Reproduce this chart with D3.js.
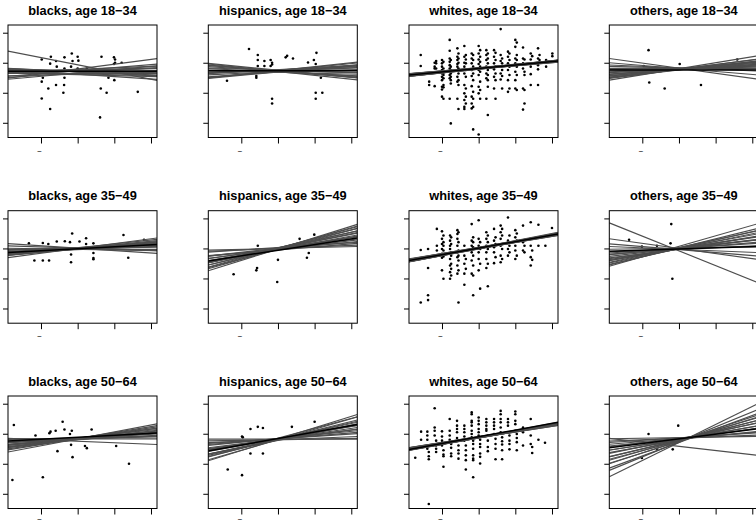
<!DOCTYPE html>
<html><head><meta charset="utf-8">
<script src="https://cdn.jsdelivr.net/npm/d3@7"></script>
<style>body{margin:0;background:#fff}svg{display:block}</style></head>
<body>
<script>
// ---------------- DATA ----------------
const titles = ["blacks, age 18\u221234","hispanics, age 18\u221234","whites, age 18\u221234","others, age 18\u221234",
"blacks, age 35\u221249","hispanics, age 35\u221249","whites, age 35\u221249","others, age 35\u221249",
"blacks, age 50\u221264","hispanics, age 50\u221264","whites, age 50\u221264","others, age 50\u221264"];
const xTicks = [-1,0,1,2];
const xTickLabels = ["\u2212","","",""];
const yTicks = [0,1,2,3];

// points [x,y]
const blacks18 = [[-0.98,2.11],[-0.73,2.2],[-0.75,1.97],[-0.59,2.06],[-0.57,1.87],[-0.36,2.18],[-0.36,1.81],[-0.16,2.31],[-0.14,2.06],[-0.18,1.87],[0,2.2],[0.02,2.07],[0,1.81],[0.25,1.81],[0.65,2.2],[0.99,2.18],[1.02,2.11],[1.02,2.0],[0.99,1.96],[1.2,2.0],[-0.95,1.5],[-0.98,1.37],[-0.8,1.14],[-0.59,1.26],[-0.36,1.5],[-0.37,1.26],[-0.39,1.0],[-0.98,0.81],[-0.75,0.46],[0.63,1.14],[0.79,1.0],[0.84,1.5],[1.0,1.42],[1.64,1.03],[0.61,0.18]];
const hisp18 = [[-0.79,2.46],[-1.39,1.4],[-0.55,2.26],[-0.55,2.09],[-0.55,1.89],[-0.59,1.56],[-0.59,1.5],[-0.37,2.06],[-0.37,1.89],[-0.2,2.09],[-0.16,2.0],[-0.16,1.94],[-0.2,1.89],[-0.16,0.8],[-0.16,0.64],[0.21,2.18],[0.25,2.23],[0.41,2.14],[0.82,2.01],[0.98,2.09],[1.05,2.33],[1.03,1.96],[1.03,1.61],[1.17,1.5],[1.03,1.0],[1.03,0.8],[1.21,1.0]];
const whites18Cols = [[-1.58,[2.26,1.89]],[-1.35,[1.37,1.26]],[-1.2,[1.22,1.81,1.87,2.0]],[-1.16,[2.06,1.98,1.81]],
[-1.0,[2.09,1.98,1.87,1.76,1.64,1.53,1.42,1.2,1.11,0.87]],[-0.96,[2.03,1.81,1.67,1.59,1.48,1.26,1.18,0.8]],
[-0.79,[2.76,2.4,2.14,2.03,1.92,1.81,1.7,1.59,1.48,0.8]],[-0.76,[2.09,1.87,1.76,1.64,1.53,1.42,1.31,-0.02]],
[-0.58,[2.48,2.2,2.09,1.96,1.87,1.76,1.53,1.37,0.8]],[-0.55,[2.31,2.14,2.0,1.81,1.64,1.42,1.26,0.46]],
[-0.39,[2.56,2.2,2.0,1.87,1.64,1.26,0.98,0.76,0.53,0.46]],[-0.35,[2.26,2.11,1.98,1.76,1.53,1.14,0.87,0.64]],
[-0.19,[2.31,2.14,1.98,1.76,1.56,1.22,0.87,0.64,0.48]],[-0.15,[2.26,2.09,1.87,1.64,1.42,1.03,0.8,0.53,-0.22]],
[0.0,[2.56,2.31,2.11,1.96,1.76,1.59,1.2,0.98,-0.39]],[0.04,[2.42,2.2,2.03,1.87,1.7,1.37,1.09,0.8]],
[0.21,[2.42,2.26,2.09,1.87,1.64,1.48,0.8]],[0.25,[2.31,2.14,1.98,1.76,1.59,1.42,1.2,0.26]],
[0.42,[2.42,2.2,1.98,1.78,1.53,1.14]],[0.46,[2.33,2.09,1.87,1.64,1.42,0.8]],
[0.6,[3.12,2.26,2.06,1.87,1.64,1.44]],[0.64,[2.14,1.98,1.76,1.56,1.14]],
[0.8,[2.37,2.2,1.98,1.76,1.42,1.03]],[0.84,[2.31,2.09,1.87,1.59,1.14]],
[1.0,[2.76,2.53,2.14,1.98,1.7,1.42,1.14]],[1.04,[2.67,2.26,2.09,1.87,1.59,1.09]],
[1.21,[2.51,2.14,1.98,1.81,1.14,0.44]],[1.25,[2.11,1.7,1.59,1.09,0.64]],
[1.42,[2.31,2.11,1.87,1.62,1.26]],[1.46,[2.22,1.98]],[1.62,[2.48,2.14,1.92,1.78,1.26]],[1.66,[2.26,2.09]],
[1.84,[2.09,1.87]],[2.01,[2.31,2.22]]];
const others18 = [[-0.83,2.42],[-0.96,1.89],[-0.81,1.34],[-0.6,1.81],[-0.39,1.14],[0.02,1.96],[0.6,1.26],[1.59,2.11]];

const blacks35 = [[-1.33,2.17],[-1.18,1.6],[-0.95,2.18],[-0.95,1.6],[-0.8,2.15],[-0.78,1.6],[-0.57,2.23],[-0.35,2.24],[-0.21,2.21],[-0.15,2.5],[-0.18,1.8],[-0.18,1.54],[0.05,2.23],[0.23,2.34],[0.23,2.15],[0.43,2.17],[0.43,1.85],[0.43,1.68],[0.43,1.64],[1.25,2.45],[1.38,1.69],[1.81,2.29]];
const hisp35 = [[-1.21,1.14],[-0.59,1.27],[-0.57,1.35],[-0.55,2.09],[0,1.62],[-0.02,0.88],[0.59,2.32],[0.79,1.69],[0.84,1.85],[0.99,2.46]];
const whites35Cols = [[-1.58,[1.95,0.2]],[-1.38,[1.98,1.35,0.44,0.28]],[-1.14,[2.65,2.09,1.93]],
[-1.0,[2.57,2.32,2.15,1.98,1.82,1.69,1.27]],[-0.96,[2.43,2.21,2.09,1.93,1.73,0.99]],
[-0.78,[2.43,2.26,2.09,1.98,1.82,1.65,1.43,1.21,0.99]],[-0.75,[2.37,2.15,1.87,1.76,1.49,1.32,1.1]],
[-0.58,[2.61,2.48,2.32,2.09,1.87,1.71,1.43,1.16]],[-0.55,[2.54,2.21,1.93,1.76,1.6,1.27,0.2]],
[-0.39,[2.09,1.76,1.49,1.16,0.79]],[-0.35,[1.93,1.65,1.32]],
[-0.19,[2.81,2.26,2.09,1.87,1.6,1.16]],[-0.15,[2.37,2.21,2.04,1.76,1.43,1.1,0.44]],
[0.0,[2.94,2.32,2.09,1.87,1.65,1.27]],[0.04,[2.21,1.98,1.49,0.66]],
[0.21,[2.54,2.32,2.09,1.87,1.65,1.35]],[0.25,[2.43,2.21,1.98,1.49,0.74]],
[0.42,[2.65,2.26,2.04,1.87,1.51]],[0.46,[2.37,2.15,1.71]],
[0.6,[2.76,2.54,2.32,2.09,1.76,1.54]],[0.64,[2.65,2.43,2.15,1.98,1.65]],
[0.8,[3.03,2.26,1.98,1.76]],[0.84,[2.43,2.09,1.87]],
[1.0,[2.61,2.37,2.09,1.93,1.65]],[1.04,[2.5,2.26,1.76]],
[1.21,[2.76,2.21,1.93]],[1.25,[2.09,1.87]],[1.42,[2.87,2.09,1.71,1.43]],[1.46,[1.93,1.62]],
[1.63,[2.79,2.09]],[1.82,[2.09]],[2.0,[2.68]]];
const others35 = [[-1.36,2.29],[-1.01,2.06],[-0.6,2.09],[-0.23,2.17],[-0.21,2.81],[-0.18,0.99]];

const blacks50 = [[-1.74,2.29],[-1.78,0.46],[-1.15,1.94],[-0.95,0.55],[-0.77,2.02],[-0.74,2.07],[-0.6,2.1],[-0.55,1.42],[-0.41,2.4],[-0.36,2.14],[-0.21,1.99],[-0.16,2.1],[-0.18,1.63],[-0.14,1.22],[0.2,1.59],[0.25,1.52],[0.38,2.14],[1.05,1.59],[1.4,1.0],[1.58,2.1]];
const hisp50 = [[-1.37,0.81],[-0.98,1.91],[-0.96,1.88],[-0.98,0.62],[-0.75,2.16],[-0.75,1.34],[-0.55,2.23],[-0.41,2.19],[-0.41,1.34],[0.38,2.23],[1.0,2.4]];
const whites50Cols = [[-1.73,[1.2]],[-1.57,[2.07,1.8]],[-1.4,[2.07,1.94,1.8,1.61,1.5]],[-1.36,[1.39,1.25,1.15,-0.34]],
[-1.2,[2.85,2.21,2.1,1.94]],[-1.16,[1.77,1.61,1.5,1.39]],[-1.0,[2.08,1.91,1.77,1.61]],[-0.96,[1.45,1.31,1.25,0.9]],
[-0.79,[2.49,2.1,1.94,1.8]],[-0.75,[1.66,1.53,1.34,1.25]],[-0.59,[2.43,2.27,2.16,2.05,1.86]],[-0.55,[1.77,1.61,1.45,1.34,1.17]],
[-0.39,[2.27,2.16,2.05,1.91,1.77]],[-0.35,[1.61,1.45,1.28,1.12,0.81]],
[-0.19,[2.71,2.65,2.43,2.38,2.27,2.1,1.99,1.88]],[-0.15,[1.77,1.66,1.5,1.28,1.17,1.12,0.55]],
[0.0,[2.54,2.43,2.32,2.16,2.05,1.94]],[0.04,[1.8,1.66,1.56,1.34,1.23,1.01]],
[0.21,[2.49,2.38,2.27,2.16,2.1]],[0.25,[1.94,1.77,1.56,1.42]],
[0.42,[2.49,2.38,2.27,2.16,1.99]],[0.46,[1.83,1.66,1.5,1.15]],
[0.6,[2.76,2.65,2.49,2.38,2.21,2.05]],[0.64,[1.88,1.75,1.64,1.45,1.15]],
[0.8,[2.49,2.38,2.27,2.05]],[0.84,[1.94,1.77,1.66,1.48]],
[1.0,[2.74,2.65,2.43,2.32,2.1]],[1.04,[1.99,1.86,1.72,1.45]],
[1.21,[2.21,2.05,1.61]],[1.42,[2.49,1.94,1.66]],[1.46,[1.56,1.36]],[1.63,[1.8]],[1.81,[1.7]]];
const others50 = [[-0.83,1.99],[-1.01,1.19],[-0.6,1.5],[-0.17,1.48],[-0.02,2.27]];

// simulated regression lines: intercepts (a) and slopes (b); fitted line [a,b]
const simA_b18 = [1.93,1.79,1.74,1.66,1.66,1.70,1.62,1.64,1.72,1.70,1.74,1.71,1.63,1.73,1.78,1.70,1.62,1.76,1.60,1.72];
const simB_b18 = [-0.24,0.16,0.10,0.11,0.08,-0.05,-0.08,0.0,-0.04,0.0,0.04,-0.02,-0.03,0.04,0.05,-0.06,0.03,0.02,-0.03,0.01];
const fit_b18 = [1.72,0.0];
const simA_h18 = [1.73,1.75,1.70,1.72,1.76,1.69,1.74,1.71,1.73,1.68,1.77,1.72,1.70,1.74,1.75,1.71,1.73,1.69,1.72,1.74];
const simB_h18 = [0.12,-0.12,0.09,-0.1,0.05,-0.06,0.13,-0.13,0.02,-0.03,0.07,-0.08,0.1,0.0,-0.04,0.06,-0.1,0.11,-0.02,0.04];
const fit_h18 = [1.73,0.0];
const simA_w18 = [1.80,1.82,1.79,1.83,1.81,1.80,1.82,1.78,1.81,1.84,1.80,1.82,1.79,1.81,1.83,1.80,1.81,1.82,1.79,1.80];
const simB_w18 = [0.11,0.12,0.13,0.10,0.115,0.125,0.105,0.12,0.13,0.11,0.1,0.125,0.115,0.12,0.105,0.13,0.11,0.12,0.125,0.1];
const fit_w18 = [1.81,0.116];
const simA_o18 = [1.8,1.82,1.78,1.79,1.81,1.77,1.83,1.8,1.76,1.79,1.81,1.78,1.8,1.82,1.77,1.79,1.8,1.78,1.81,1.79];
const simB_o18 = [0.2,-0.17,0.12,0.15,-0.1,0.08,-0.05,0.1,0.14,0.05,0.0,0.11,0.07,-0.03,0.13,0.09,0.04,0.16,0.02,0.06];
const fit_o18 = [1.76,0.0];

const simA_b35 = [1.99,2.01,1.97,2.0,2.02,1.98,2.0,1.96,2.01,1.99,2.03,1.98,2.0,1.97,2.02,1.99,2.01,1.98,2.0,1.99];
const simB_b35 = [0.06,0.1,-0.02,0.12,0.04,0.08,0.16,0.05,-0.08,0.09,0.07,0.11,0.03,0.0,0.13,0.06,-0.04,0.1,0.02,0.09];
const fit_b35 = [1.99,0.064];
const simA_h35 = [1.98,2.0,1.96,2.02,1.97,1.99,2.01,1.95,2.0,1.98,2.03,1.97,1.99,1.96,2.0,2.02,1.98,1.97,2.01,1.99];
const simB_h35 = [0.38,0.05,0.2,0.3,0.12,0.25,0.33,0.1,0.18,0.28,0.08,0.22,0.35,0.15,0.03,0.26,0.2,0.32,0.14,0.24];
const fit_h35 = [1.94,0.187];
const simA_w35 = [2.0,2.02,1.99,2.03,2.01,2.0,2.02,1.98,2.01,2.04,2.0,2.02,1.99,2.01,2.03,2.0,2.01,2.02,1.99,2.0];
const simB_w35 = [0.21,0.22,0.23,0.2,0.215,0.225,0.205,0.22,0.235,0.21,0.2,0.225,0.215,0.22,0.205,0.23,0.21,0.24,0.225,0.2];
const fit_w35 = [2.01,0.218];
const simA_o35 = [1.92,2.0,2.07,2.02,2.0,1.99,2.01,1.98,2.0,1.97,2.02,1.99,2.0,1.98,2.01,1.97,2.03,1.99,2.0,1.96];
const simB_o35 = [-0.49,-0.17,0.35,0.3,0.28,0.25,0.22,0.2,0.18,0.15,0.12,0.1,0.08,0.05,0.02,-0.05,0.26,0.19,0.14,-0.1];
const fit_o35 = [1.98,0.04];

const simA_b50 = [1.83,1.85,1.82,1.84,1.86,1.80,1.83,1.85,1.81,1.84,1.82,1.86,1.83,1.75,1.84,1.82,1.85,1.83,1.81,1.84];
const simB_b50 = [0.1,0.15,0.05,0.2,0.08,0.12,0.23,0.02,0.1,0.18,0.06,0.13,0.0,-0.05,0.16,0.09,0.11,0.04,0.14,0.07];
const fit_b50 = [1.88,0.066];
const simA_h50 = [1.82,1.80,1.84,1.81,1.83,1.79,1.82,1.85,1.80,1.83,1.81,1.84,1.82,1.80,1.83,1.78,1.82,1.81,1.84,1.82];
const simB_h50 = [0.38,0.02,0.2,0.3,0.1,0.25,0.15,0.33,0.05,0.22,0.28,0.12,0.18,0.35,0.08,0.24,0.26,0.16,0.2,0.0];
const fit_h50 = [1.84,0.217];
const simA_w50 = [1.87,1.89,1.86,1.9,1.88,1.87,1.89,1.86,1.88,1.91,1.87,1.89,1.86,1.88,1.9,1.87,1.88,1.89,1.86,1.87];
const simB_w50 = [0.2,0.21,0.22,0.19,0.205,0.215,0.195,0.21,0.22,0.2,0.19,0.215,0.205,0.21,0.195,0.22,0.2,0.225,0.215,0.19];
const fit_w50 = [1.9,0.222];
const simA_o50 = [1.71,1.71,1.73,1.76,1.78,1.8,1.77,1.82,1.79,1.83,1.8,1.85,1.82,1.84,1.86,1.85,1.87,1.58,1.74,1.76];
const simB_o50 = [0.6,0.45,0.5,0.4,0.35,0.3,0.28,0.25,0.22,0.2,0.18,0.15,0.12,0.1,0.08,0.05,0.02,-0.14,0.38,0.32];
const fit_o50 = [1.83,0.156];

// ---------------- BUILD ----------------
const cols2pts = c => c.flatMap(([x, ys]) => ys.map(y => [x, y]));
const panelPts = [blacks18, hisp18, cols2pts(whites18Cols), others18,
                  blacks35, hisp35, cols2pts(whites35Cols), others35,
                  blacks50, hisp50, cols2pts(whites50Cols), others50];
const simA = [simA_b18, simA_h18, simA_w18, simA_o18, simA_b35, simA_h35, simA_w35, simA_o35, simA_b50, simA_h50, simA_w50, simA_o50];
const simB = [simB_b18, simB_h18, simB_w18, simB_o18, simB_b35, simB_h35, simB_w35, simB_o35, simB_b50, simB_h50, simB_w50, simB_o50];
const fits = [fit_b18, fit_h18, fit_w18, fit_o18, fit_b35, fit_h35, fit_w35, fit_o35, fit_b50, fit_h50, fit_w50, fit_o50];

const W = 756, H = 524;
const colLeft = [8, 208.3, 409, 609.3];
const rowTop = [25, 210.7, 396];
const pw = 149, ph = 112.5;

const svg = d3.select("body").append("svg").attr("width", W).attr("height", H);
const x = d3.scaleLinear().domain([-1.9, 2.164]).range([0, pw]);
const y = d3.scaleLinear().domain([-0.49, 3.257]).range([ph, 0]);
const xd = x.domain();

titles.forEach((t, i) => {
  const r = Math.floor(i / 4), c = i % 4;
  const g = svg.append("g").attr("transform", `translate(${colLeft[c]},${rowTop[r]})`);
  const cid = "clip" + i;
  g.append("clipPath").attr("id", cid).append("rect").attr("width", pw).attr("height", ph);

  g.append("text").attr("x", pw / 2).attr("y", -10.5).attr("text-anchor", "middle")
    .style("font-family", "Liberation Sans, Arial, Helvetica, sans-serif")
    .style("font-weight", "bold").style("font-size", "12.8px").text(t);

  const body = g.append("g").attr("clip-path", `url(#${cid})`);
  body.selectAll("circle").data(panelPts[i]).join("circle")
    .attr("cx", d => x(d[0])).attr("cy", d => y(d[1])).attr("r", 1.3).attr("fill", "#000");

  const lines = simA[i].map((a, k) => [a, simB[i][k]]);
  body.selectAll("line.sim").data(lines).join("line").attr("class", "sim")
    .attr("x1", x(xd[0])).attr("x2", x(xd[1]))
    .attr("y1", d => y(d[0] + d[1] * xd[0])).attr("y2", d => y(d[0] + d[1] * xd[1]))
    .attr("stroke", "#4d4d4d").attr("stroke-width", 1.15);
  const f = fits[i];
  body.append("line").attr("x1", x(xd[0])).attr("x2", x(xd[1]))
    .attr("y1", y(f[0] + f[1] * xd[0])).attr("y2", y(f[0] + f[1] * xd[1]))
    .attr("stroke", "#000").attr("stroke-width", 1.5);

  g.append("rect").attr("width", pw).attr("height", ph).attr("fill", "none")
    .attr("stroke", "#000").attr("stroke-width", 1);

  const ya = g.append("g").call(d3.axisLeft(y).tickValues(yTicks).tickSize(5).tickFormat(""));
  ya.select(".domain").remove();
  ya.selectAll("line").attr("stroke-width", 1);

  const xa = g.append("g").attr("transform", `translate(0,${ph})`)
    .call(d3.axisBottom(x).tickValues(xTicks).tickSize(6).tickFormat((d, k) => xTickLabels[k]));
  xa.select(".domain").remove();
  xa.selectAll("line").attr("stroke-width", 1);
  const labelBase = Math.min(16, H - rowTop[r] - ph - 2.5);
  xa.selectAll("text").attr("text-anchor", "end").attr("x", 0.5).attr("y", labelBase).attr("dy", null)
    .style("font-family", "Liberation Sans, Arial, sans-serif").style("font-size", "8px");
});
</script>
</body></html>
